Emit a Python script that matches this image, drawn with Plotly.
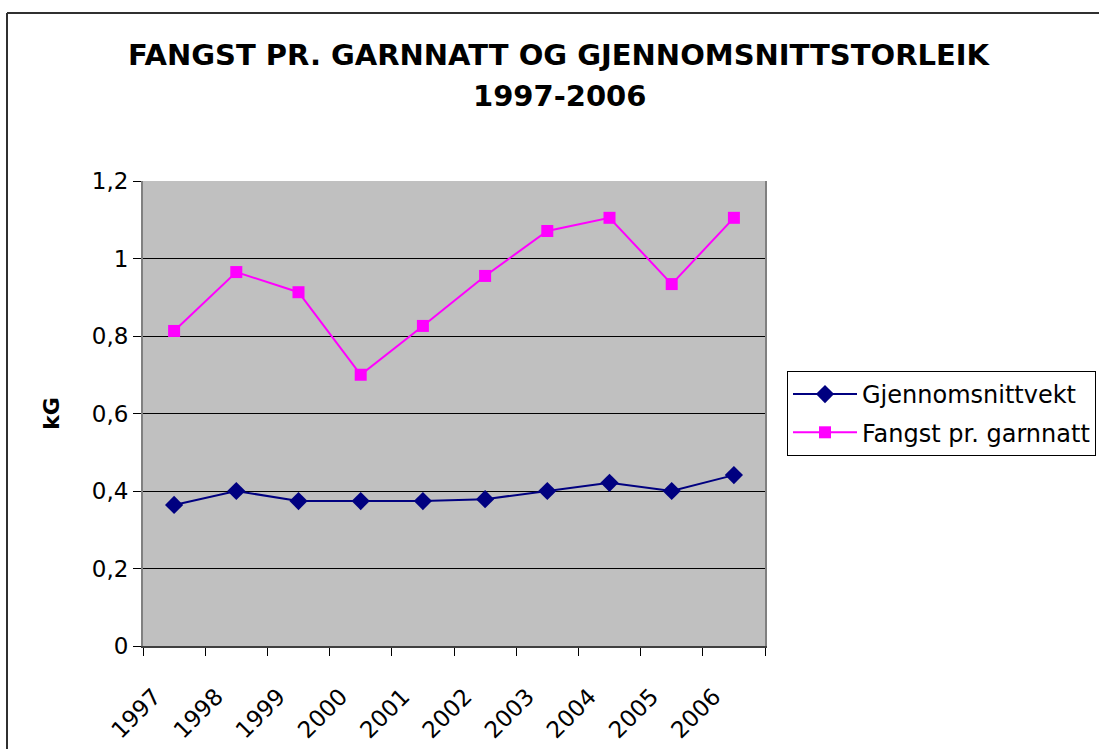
import plotly.graph_objects as go

years = ["1997", "1998", "1999", "2000", "2001", "2002", "2003", "2004", "2005", "2006"]
gjennomsnittvekt = [0.364, 0.40, 0.374, 0.374, 0.374, 0.379, 0.40, 0.421, 0.40, 0.441]
fangst = [0.813, 0.965, 0.913, 0.70, 0.826, 0.955, 1.071, 1.105, 0.934, 1.105]
y_ticks = [0, 0.2, 0.4, 0.6, 0.8, 1.0, 1.2]
y_ticktext = ["0", "0,2", "0,4", "0,6", "0,8", "1", "1,2"]

W, H = 1099, 749
L, R, T, B = 143, 1099 - 765, 181, 749 - 646
FONT = "DejaVu Sans"

xpos = [i + 0.5 for i in range(len(years))]

fig = go.Figure()
fig.add_trace(go.Scatter(
    x=xpos, y=gjennomsnittvekt, mode="lines+markers", name="Gjennomsnittvekt",
    line=dict(color="#000080", width=2),
    marker=dict(symbol="diamond", size=14, color="#000080"),
    legendgroup="a",
))
fig.add_trace(go.Scatter(
    x=xpos, y=fangst, mode="lines+markers", name="Fangst pr. garnnatt",
    line=dict(color="#FF00FF", width=2),
    marker=dict(symbol="square", size=12, color="#FF00FF"),
    legendgroup="b",
))

pw = W - L - R
ph = H - T - B
def px(x):
    return (x - L) / pw
def py(y):
    return (H - B - y) / ph

fig.update_layout(
    width=W, height=H,
    margin=dict(l=L, r=R, t=T, b=B, pad=0, autoexpand=False),
    paper_bgcolor="white",
    plot_bgcolor="#C0C0C0",
    font=dict(family=FONT, size=23, color="black"),
    showlegend=True,
    legend=dict(
        xref="container", yref="container",
        x=787 / W, y=1 - 371 / H, xanchor="left", yanchor="top",
        bordercolor="black", borderwidth=1, bgcolor="white",
        font=dict(family=FONT, size=24, color="black"),
        tracegroupgap=4, itemwidth=64,
    ),
    xaxis=dict(
        range=[0, len(years)], automargin=False,
        tickmode="array", tickvals=[v - 0.32 for v in xpos], ticktext=years,
        tickangle=-45, ticks="", ticklabelstandoff=26,
        showgrid=False, zeroline=False,
        showline=True, linecolor="#404040", linewidth=2,
        minor=dict(tick0=0, dtick=1, ticks="outside", ticklen=8, tickcolor="black", tickwidth=1, showgrid=False),
        tickfont=dict(family=FONT, size=23),
        fixedrange=True,
    ),
    yaxis=dict(
        range=[0, 1.2], automargin=False,
        tickmode="array", tickvals=y_ticks, ticktext=y_ticktext,
        ticks="outside", ticklen=8, tickcolor="black",
        showgrid=True, gridcolor="black", gridwidth=1,
        zeroline=False,
        showline=True, linecolor="#808080", linewidth=2,
        mirror=True,
        tickfont=dict(family=FONT, size=23),
        title=dict(text="<b>kG</b>", font=dict(family=FONT, size=22), standoff=26),
        fixedrange=True,
    ),
    annotations=[
        dict(text="<b>FANGST PR. GARNNATT OG GJENNOMSNITTSTORLEIK</b>", x=px(559), y=py(55),
             xref="paper", yref="paper", showarrow=False, xanchor="center", yanchor="middle",
             font=dict(family=FONT, size=29)),
        dict(text="<b>1997-2006</b>", x=px(559), y=py(96),
             xref="paper", yref="paper", showarrow=False, xanchor="center", yanchor="middle",
             font=dict(family=FONT, size=29)),
    ],
    shapes=[
        dict(type="line", xref="paper", yref="paper", x0=px(7), x1=px(1099), y0=py(13), y1=py(13),
             line=dict(color="#303030", width=2)),
        dict(type="line", xref="paper", yref="paper", x0=px(7), x1=px(7), y0=py(13), y1=py(749),
             line=dict(color="#303030", width=2)),
    ],
)
fig.write_html(
    "out.html",
    config={"displayModeBar": False},
    post_script=(
        "document.documentElement.style.margin='0';"
        "document.documentElement.style.padding='0';"
        "document.documentElement.style.overflow='hidden';"
        "document.documentElement.style.height='749px';"
        "document.body.style.margin='0';"
        "document.body.style.padding='0';"
        "document.body.style.overflow='hidden';"
        "document.body.style.height='749px';"
    ),
)
